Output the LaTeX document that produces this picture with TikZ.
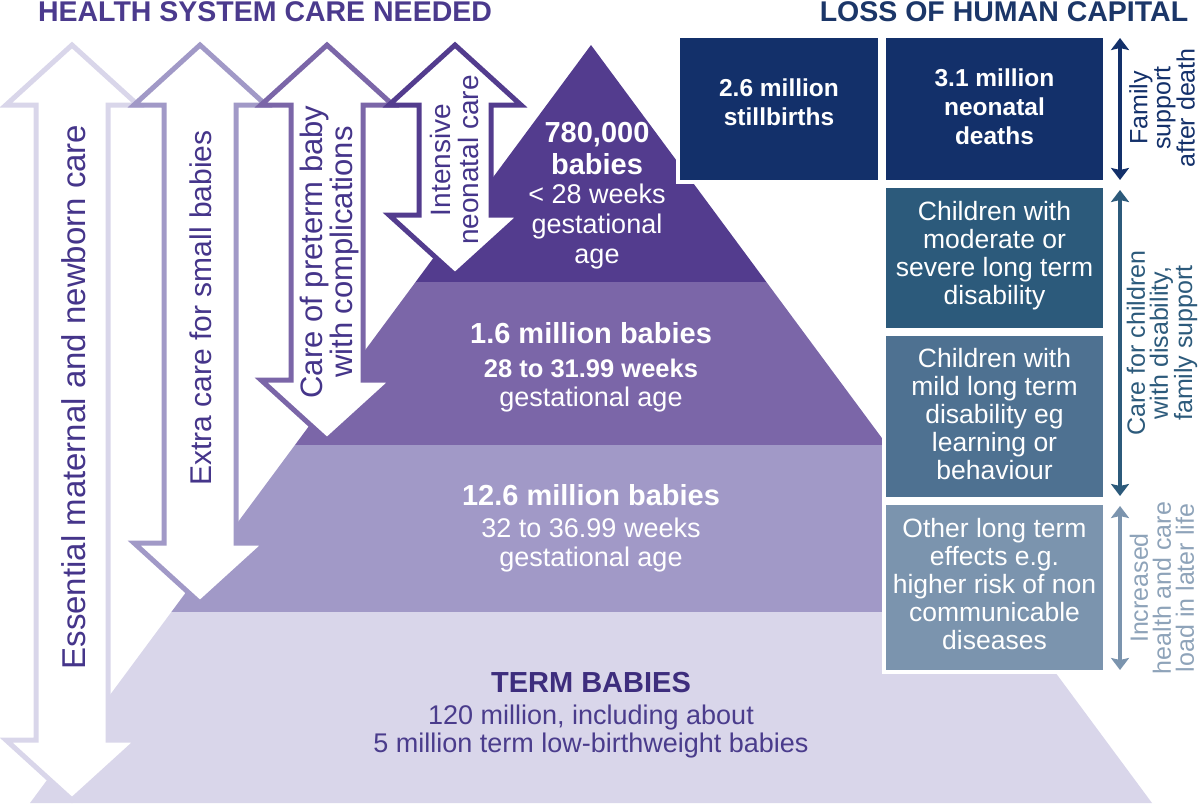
\documentclass[tikz,border=0pt]{standalone}
\usepackage{fontspec}
\setmainfont{Liberation Sans}
\usetikzlibrary{arrows.meta}
\definecolor{tierA}{HTML}{533C8E}
\definecolor{tierB}{HTML}{7B66A8}
\definecolor{tierC}{HTML}{A199C7}
\definecolor{tierD}{HTML}{D9D6EA}
\definecolor{navy}{HTML}{13306A}
\definecolor{boxC}{HTML}{2C5A7B}
\definecolor{boxD}{HTML}{4E7191}
\definecolor{boxE}{HTML}{7B94AE}
\definecolor{lblE}{HTML}{8EA3B9}
\definecolor{ptxt}{HTML}{45358A}
\definecolor{ttl}{HTML}{4B3A8D}
\definecolor{ttlR}{HTML}{1B3668}
\definecolor{termA}{HTML}{3D2D7D}
\definecolor{termB}{HTML}{4A3C8C}
\newcommand{\hollowarrow}[4]{%
  \draw[harrow, draw=#4] (#1,#2) -- (#1+66,#2+60) -- (#1+36,#2+60) -- (#1+36,#3-60)
    -- (#1+66,#3-60) -- (#1,#3) -- (#1-66,#3-60) -- (#1-36,#3-60) -- (#1-36,#2+60)
    -- (#1-66,#2+60) -- cycle;}
\begin{document}
\begin{tikzpicture}[x=1pt,y=-1pt,
  harrow/.style={fill=white, line width=5pt, line join=miter},
  vlabel/.style={rotate=90, align=center, text=ptxt, inner sep=0pt, font=\fontsize{30}{30}\selectfont},
  rlabel/.style={rotate=90, align=center, inner sep=0pt, font=\fontsize{25}{23}\selectfont},
  titlet/.style={inner sep=0pt, font=\bfseries\fontsize{28.5}{30}\selectfont},
  pbold/.style={align=center, inner sep=0pt, text=white, font=\bfseries\fontsize{29}{32}\selectfont},
  pboldsm/.style={align=center, inner sep=0pt, text=white, font=\bfseries\fontsize{25.5}{30}\selectfont},
  preg/.style={align=center, inner sep=0pt, text=white, font=\fontsize{27}{30}\selectfont},
  boxn/.style={minimum width=#1, inner sep=0pt, outer sep=0pt, preaction={draw=white, line width=8pt}},
  bbold/.style={align=center, inner sep=0pt, text=white, font=\bfseries\fontsize{24.5}{29}\selectfont},
  breg/.style={align=center, inner sep=0pt, text=white, font=\fontsize{26.5}{28}\selectfont},
  rarrow/.style={line width=4pt, {Stealth[width=18pt,length=12pt,inset=2pt]}-{Stealth[width=18pt,length=12pt,inset=2pt]}}
]
\useasboundingbox (0,0) rectangle (1200,806);
% pyramid
\begin{scope}
  \clip (591,45) -- (1152,803) -- (30,803) -- cycle;
  \fill[tierA] (0,0) rectangle (1200,282);
  \fill[tierB] (0,282) rectangle (1200,445);
  \fill[tierC] (0,445) rectangle (1200,612);
  \fill[tierD] (0,612) rectangle (1200,806);
\end{scope}
% titles
\node[titlet, text=ttl] (h1) at (265,12) {HEALTH SYSTEM CARE NEEDED};
\node[titlet, text=ttlR] (h2) at (1004,12) {LOSS OF HUMAN CAPITAL};
% left hollow double arrows
\hollowarrow{72}{45}{800}{tierD}
\hollowarrow{200}{45}{603}{tierC}
\hollowarrow{327}{45}{440}{tierB}
\hollowarrow{455}{45}{275}{tierA}
\node[vlabel, font=\fontsize{33}{33}\selectfont] (t1) at (74,397) {Essential maternal and newborn care};
\node[vlabel] (t2) at (201,308) {Extra care for small babies};
\node[vlabel, font=\fontsize{31}{30}\selectfont] (t3) at (329,252) {Care of preterm baby\\with complications};
\node[vlabel, font=\fontsize{28}{28}\selectfont] (t4) at (454,160) {Intensive\\neonatal care};
% pyramid texts
\node[pbold] (p1a) at (597,149) {780,000\\babies};
\node[preg] (p1b) at (597,227) {< 28 weeks\\gestational\\age};
\node[pbold] (p2a) at (591,333) {1.6 million babies};
\node[pboldsm] (p2b) at (591,368) {28 to 31.99 weeks};
\node[preg] (p2c) at (591,400) {gestational age};
\node[pbold] (p3a) at (591,495) {12.6 million babies};
\node[preg] (p3b) at (591,528) {32 to 36.99 weeks};
\node[preg] (p3c) at (591,560) {gestational age};
\node[pbold, text=termA] (p4a) at (591,683) {TERM BABIES};
\node[preg, text=termB, font=\fontsize{27}{28}\selectfont] (p4b) at (591,732) {120 million, including about\\5 million term low-birthweight babies};
% right boxes
\node[boxn=198, minimum height=142, fill=navy] (bA) at (779,109) {};
\node[boxn=217, minimum height=142, fill=navy] (bB) at (994.5,109) {};
\node[boxn=217, minimum height=140, fill=boxC] (bC) at (994.5,258) {};
\node[boxn=217, minimum height=161, fill=boxD] (bD) at (994.5,416.5) {};
\node[boxn=217, minimum height=165, fill=boxE] (bE) at (994.5,587.5) {};
\node[bbold] (tA) at (779,102) {2.6 million\\stillbirths};
\node[bbold] (tB) at (994.5,107) {3.1 million\\neonatal\\deaths};
\node[breg] (tC) at (994.5,256) {Children with\\moderate or\\severe long term\\disability};
\node[breg] (tD) at (994.5,414) {Children with\\mild long term\\disability eg\\learning or\\behaviour};
\node[breg] (tE) at (994.5,584) {Other long term\\effects e.g.\\higher risk of non\\communicable\\diseases};
% right double arrows
\coordinate (r1a) at (1120,38);
\coordinate (r1b) at (1120,180);
\coordinate (r2a) at (1120,190);
\coordinate (r2b) at (1120,496);
\coordinate (r3a) at (1120,506);
\coordinate (r3b) at (1120,670);
\draw[rarrow, navy] (r1a) -- (r1b);
\draw[rarrow, boxC] (r2a) -- (r2b);
\draw[rarrow, boxE] (r3a) -- (r3b);
\node[rlabel, text=navy] (L1) at (1162,108) {Family\\support\\after death};
\node[rlabel, text=boxC] (L2) at (1162,343) {Care for children\\with disability,\\family support};
\node[rlabel, text=lblE] (L3) at (1162,588) {Increased\\health and care\\load in later life};
\end{tikzpicture}
\end{document}
